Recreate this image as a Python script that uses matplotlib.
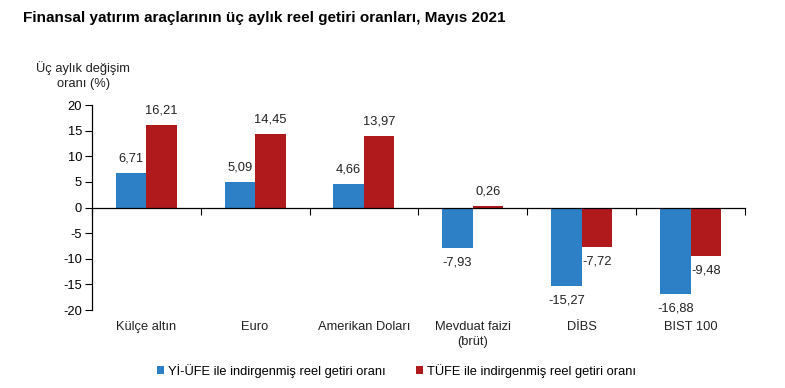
import matplotlib
matplotlib.use("Agg")
import matplotlib.pyplot as plt
import numpy as np

categories = ["Külçe altın", "Euro", "Amerikan Doları", "Mevduat faizi\n(brüt)", "DİBS", "BIST 100"]
yi_ufe = [6.71, 5.09, 4.66, -7.93, -15.27, -16.88]
tufe = [16.21, 14.45, 13.97, 0.26, -7.72, -9.48]
series_names = ["Yİ-ÜFE ile indirgenmiş reel getiri oranı", "TÜFE ile indirgenmiş reel getiri oranı"]
yticks = [20, 15, 10, 5, 0, -5, -10, -15, -20]

plt.rcParams['font.family'] = ['Liberation Sans', 'DejaVu Sans']

blue = "#2D7FC6"
red = "#B11A1C"

fig = plt.figure(figsize=(7.85, 3.88), dpi=100)
ax = fig.add_axes([0.117, 0.201, 0.832, 0.528])

x = np.arange(len(categories))
w = 0.28
b1 = ax.bar(x - w/2, yi_ufe, w, color=blue, label=series_names[0])
b2 = ax.bar(x + w/2, tufe, w, color=red, label=series_names[1])

def fmt(v):
    return f"{v:.2f}".replace(".", ",")

for bars, vals in ((b1, yi_ufe), (b2, tufe)):
    for r, v in zip(bars, vals):
        cx = r.get_x() + r.get_width() / 2
        if v >= 0:
            ax.annotate(fmt(v), (cx, v), xytext=(0, 6), textcoords="offset points",
                        ha="center", va="bottom", fontsize=9.3, color="#222222")
        else:
            ax.annotate(fmt(v), (cx, v), xytext=(0, -6), textcoords="offset points",
                        ha="center", va="top", fontsize=9.3, color="#222222")

ax.set_xlim(-0.5, len(categories) - 0.5)
ax.set_ylim(-20, 20)
ax.set_yticks(yticks)
ax.set_yticklabels([str(t) for t in yticks], fontsize=9.3)
ax.tick_params(axis='y', direction='out', length=5, width=0.8, pad=2)

for s in ["top", "right"]:
    ax.spines[s].set_visible(False)
ax.spines["bottom"].set_position(("data", 0))
ax.spines["left"].set_linewidth(0.9)
ax.spines["bottom"].set_linewidth(0.9)

ax.set_xticks(np.arange(len(categories) + 1) - 0.5)
ax.set_xticklabels([])
ax.tick_params(axis='x', direction='out', length=5, width=0.8)
for xi, c in zip(x, categories):
    ax.text(xi, -22.2, c, ha="center", va="top", fontsize=9.3, color="#222222",
            transform=ax.transData, linespacing=1.3)

fig.text(0.029, 0.953, "Finansal yatırım araçlarının üç aylık reel getiri oranları, Mayıs 2021",
         fontsize=11, fontweight="bold", ha="left", va="center")
fig.text(0.106, 0.806, "Üç aylık değişim\noranı (%)", fontsize=9.3, ha="center", va="center",
         color="#222222", linespacing=1.3)

fig.legend(handles=[b1, b2], loc="center", bbox_to_anchor=(0.505, 0.044), ncol=2,
           frameon=False, fontsize=9.3, handlelength=0.55, handleheight=0.55,
           handletextpad=0.3, columnspacing=2.3)

fig.savefig("out.png", dpi=100)
